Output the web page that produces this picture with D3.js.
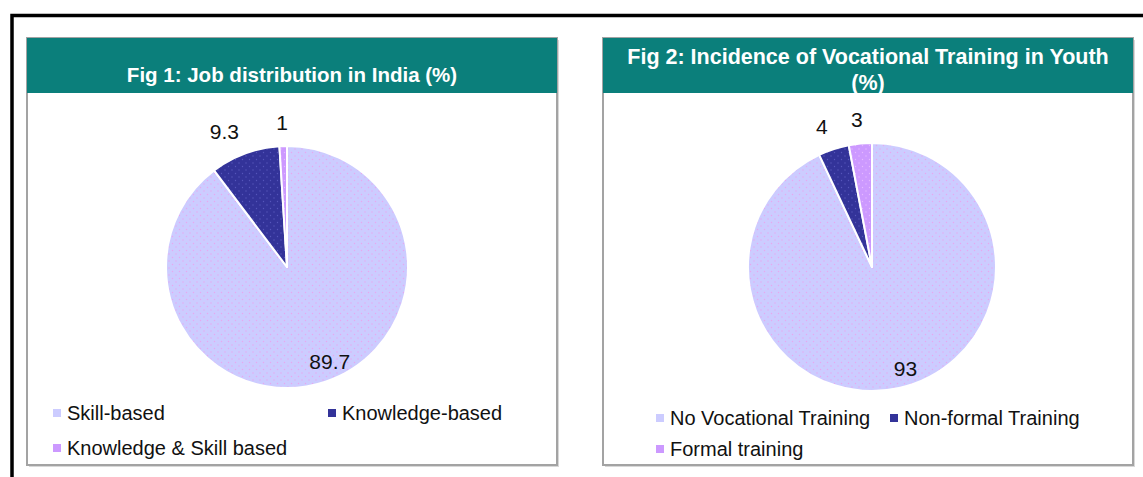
<!DOCTYPE html>
<html>
<head>
<meta charset="utf-8">
<script src="https://cdn.jsdelivr.net/npm/d3@7"></script>
<style>
  html, body { margin: 0; padding: 0; background: #fff; }
  svg { display: block; font-family: "Liberation Sans", Arial, sans-serif; }
</style>
</head>
<body>
<div id="chart"></div>
<script>
// data
const fig1Title = ["Fig 1: Job distribution in India (%)"];
const fig1Labels = ["Skill-based", "Knowledge-based", "Knowledge & Skill based"];
const fig1Values = [89.7, 9.3, 1];

const fig2Title = ["Fig 2: Incidence of Vocational Training in Youth", "(%)"];
const fig2Labels = ["No Vocational Training", "Non-formal Training", "Formal training"];
const fig2Values = [93, 4, 3];

const sliceColors = ["#ccccff", "#333399", "#cc99ff"];
const dotColors = ["#e9a6f0", "#5555bb", "#e6b8ff"];

const width = 1143, height = 477;

const svg = d3.select("#chart").append("svg")
    .attr("width", width)
    .attr("height", height);

// dotted fills like the original print
const defs = svg.append("defs");
sliceColors.forEach((c, i) => {
    const p = defs.append("pattern")
        .attr("id", "dots" + i)
        .attr("patternUnits", "userSpaceOnUse")
        .attr("width", 7).attr("height", 7);
    p.append("rect").attr("width", 7).attr("height", 7).attr("fill", c);
    p.append("circle").attr("cx", 1).attr("cy", 1).attr("r", 0.7).attr("fill", dotColors[i]);
    p.append("circle").attr("cx", 4.5).attr("cy", 4.5).attr("r", 0.7).attr("fill", dotColors[i]);
});

// outer black frame (runs off the right and bottom)
svg.append("rect")
    .attr("x", 12).attr("y", 15.5)
    .attr("width", 1300).attr("height", 600)
    .attr("fill", "none")
    .attr("stroke", "#000")
    .attr("stroke-width", 3.5);

function drawPanel(opt) {
    const g = svg.append("g").attr("transform", `translate(${opt.x},${opt.y})`);
    const w = opt.w, h = opt.h;

    // shadow + border
    g.append("rect")
        .attr("x", 2).attr("y", 2).attr("width", w).attr("height", h)
        .attr("fill", "#d8d8d8");
    g.append("rect")
        .attr("width", w).attr("height", h)
        .attr("fill", "#fff")
        .attr("stroke", "#a3a3a3")
        .attr("stroke-width", 2);

    // header
    g.append("rect")
        .attr("width", w).attr("height", 55)
        .attr("fill", "#0b7f7b");
    const title = g.append("text")
        .attr("text-anchor", "middle")
        .attr("fill", "#fff")
        .attr("font-weight", "bold")
        .attr("font-size", opt.titleSize);
    opt.title.forEach((t, i) => {
        title.append("tspan")
            .attr("x", w / 2)
            .attr("y", opt.titleY + i * 26)
            .text(t);
    });

    // pie
    const data = opt.values.map((v, i) => ({ label: opt.labels[i], value: v, i }));
    const pie = d3.pie().sort(null).value(d => d.value);
    const arcs = pie(data);
    const r = opt.r;
    const arc = d3.arc().innerRadius(0).outerRadius(r);

    const pg = g.append("g").attr("transform", `translate(${opt.cx},${opt.cy})`);
    pg.selectAll("path.slice")
        .data(arcs)
        .join("path")
        .attr("class", "slice")
        .attr("d", arc)
        .attr("fill", d => `url(#dots${d.data.i})`)
        .attr("stroke", "#fff")
        .attr("stroke-width", 2)
        .attr("stroke-linejoin", "round");

    // labels: big slice inside, small ones outside (pushed sideways by their width)
    const inner = d3.arc().innerRadius(r * 0.86).outerRadius(r * 0.86);
    const outer = d3.arc().innerRadius(r + 24).outerRadius(r + 24);
    pg.selectAll("text.val")
        .data(arcs)
        .join("text")
        .attr("class", "val")
        .attr("text-anchor", "middle")
        .attr("dy", "0.36em")
        .attr("font-size", 21)
        .attr("fill", "#111")
        .text(d => d.data.value)
        .attr("transform", function (d) {
            const big = (d.endAngle - d.startAngle) > Math.PI;
            if (big) {
                // Excel nudges the inside label a little towards the middle
                const a = (d.startAngle + d.endAngle) / 2 - 0.1;
                return `translate(${Math.sin(a) * r * 0.86},${-Math.cos(a) * r * 0.86})`;
            }
            const [x, y] = outer.centroid(d);
            const mid = (d.startAngle + d.endAngle) / 2;
            const tw = this.getComputedTextLength();
            return `translate(${x + Math.sin(mid) * tw * 1.2},${y})`;
        });

    // legend
    const lg = g.selectAll("g.leg")
        .data(data)
        .join("g")
        .attr("class", "leg")
        .attr("transform", (d, i) => `translate(${opt.legendX[i]},${opt.legendY[i]})`);
    lg.append("rect")
        .attr("x", 0).attr("y", -4)
        .attr("width", 8).attr("height", 8)
        .attr("fill", d => sliceColors[d.i]);
    lg.append("text")
        .attr("x", 14)
        .attr("dy", "0.35em")
        .attr("font-size", 20)
        .attr("fill", "#111")
        .text(d => d.label);
}

drawPanel({
    x: 27, y: 38, w: 530, h: 427,
    title: fig1Title, titleY: 44, titleSize: 20.5,
    values: fig1Values, labels: fig1Labels,
    cx: 260, cy: 229, r: 121,
    legendX: [26, 301, 26], legendY: [375, 375, 410]
});

drawPanel({
    x: 603, y: 38, w: 530, h: 427,
    title: fig2Title, titleY: 26, titleSize: 21.5,
    values: fig2Values, labels: fig2Labels,
    cx: 269, cy: 229, r: 124,
    legendX: [53, 287, 53], legendY: [380, 380, 411]
});
</script>
</body>
</html>
